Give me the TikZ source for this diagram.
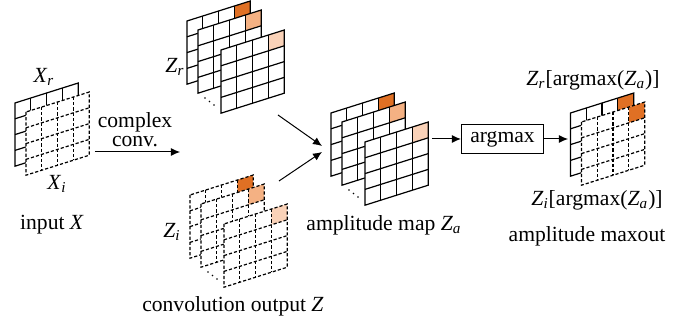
\documentclass[tikz,border=0pt]{standalone}
\usepackage{fontspec}
\IfFontExistsTF{Liberation Serif}{\setmainfont{Liberation Serif}}{\setmainfont{DejaVu Serif}}
\usetikzlibrary{arrows.meta, positioning}

\definecolor{hotorange}{RGB}{224,112,36}
\definecolor{midorange}{RGB}{244,177,131}
\definecolor{paleorange}{RGB}{250,210,184}

\newcommand{\vsub}[2]{\textit{#1}\textsubscript{\textit{#2}}}

% one slanted 4x4 map, top-left corner at #1
\newcommand{\sheet}[3]{%
  \begin{scope}[shift={#1}, yslant=0.316]
    \fill[white] (0,0) rectangle (63.2,-63.2);
    \fill[#3] (47.4,0) rectangle (63.2,-15.8);
    \draw[#2] (0,0) rectangle (63.2,-63.2);
    \foreach \k in {1,2,3}{
      \draw[#2] (15.8*\k,0) -- (15.8*\k,-63.2);
      \draw[#2] (0,-15.8*\k) -- (63.2,-15.8*\k);
    }
  \end{scope}}

% three maps behind each other
\newcommand{\mapstack}[2]{%
  \begin{scope}[shift={#1}]
    \sheet{(0,0)}{#2}{hotorange}
    \sheet{(11,-9)}{#2}{midorange}
    \foreach \d in {0,1,2}
      \fill (18+4.5*\d,-77-3.5*\d) circle (0.9);
    \sheet{(34,-29)}{#2}{paleorange}
  \end{scope}}

\begin{document}
\begin{tikzpicture}[
        x=0.5pt, y=0.5pt, line width=0.6pt,
        lbl/.style={font=\fontsize{10.8}{9.5}\selectfont, align=center, inner sep=1pt},
        box/.style={draw, rectangle, minimum width=41pt, minimum height=13.5pt, font=\fontsize{10.8}{9.5}\selectfont},
        arrow/.style={-{Latex[length=4.5pt, width=4pt]}, line width=0.5pt},
        hidden/.style={dash pattern=on 1.6pt off 1pt}
    ]
        \useasboundingbox (0,0) rectangle (693,-324);

        % --- input X ---
        \sheet{(15,-103)}{solid}{white}
        \sheet{(26,-112)}{hidden}{white}
        \node[lbl] (xr) at (44,-77) {\vsub{X}{r}};
        \node[lbl] (xi) at (57,-184) {\vsub{X}{i}};
        \node[lbl] (inputlbl) at (52,-225) {input \textit{X}};

        \coordinate (xout) at (95,-152);
        \coordinate (convin) at (180,-152);
        \draw[arrow] (xout) -- (convin);
        \node[lbl] (convlbl) at (135,-130) {complex\\conv.};

        % --- convolution output Z ---
        \mapstack{(187,-21)}{solid}
        \mapstack{(190,-195)}{hidden}
        \node[lbl] (zr) at (175,-67) {\vsub{Z}{r}};
        \node[lbl] (zi) at (172,-232) {\vsub{Z}{i}};
        \node[lbl] (convoutlbl) at (233,-306) {convolution output \textit{Z}};

        % --- amplitude map ---
        \mapstack{(331,-113)}{solid}
        \node[lbl] (amplbl) at (384,-225) {amplitude map \vsub{Z}{a}};

        \coordinate (zrout) at (278,-115);
        \coordinate (zrin) at (322,-146);
        \coordinate (ziout) at (279,-181);
        \coordinate (ziin) at (322,-152);
        \draw[arrow] (zrout) -- (zrin);
        \draw[arrow] (ziout) -- (ziin);

        % --- argmax + maxout ---
        \node[box] (argmax) at (502.5,-139) {argmax};
        \coordinate (ampout) at (432,-139);
        \coordinate (maxin) at (568,-139);
        \draw[arrow] (ampout) -- (argmax.west);
        \draw[arrow] (argmax.east) -- (maxin);

        \sheet{(570.5,-113)}{solid}{hotorange}
        \sheet{(581.5,-122)}{hidden}{hotorange}
        \node[lbl] (zrmax) at (593,-80) {\vsub{Z}{r}[argmax(\vsub{Z}{a})]};
        \node[lbl] (zimax) at (597,-200) {\vsub{Z}{i}[argmax(\vsub{Z}{a})]};
        \node[lbl] (maxoutlbl) at (587,-236) {amplitude maxout};

    \end{tikzpicture}
\end{document}
